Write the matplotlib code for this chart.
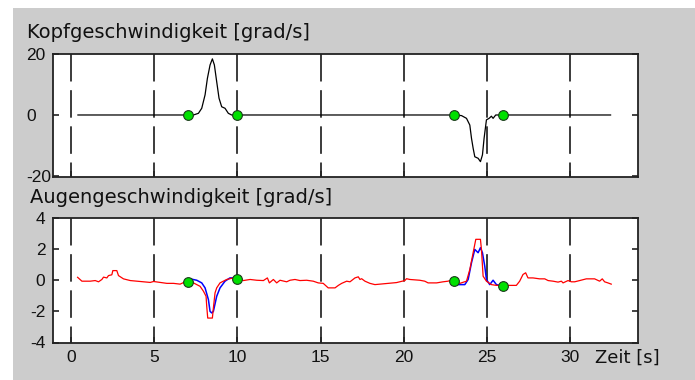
import matplotlib
matplotlib.use("Agg")
import matplotlib.pyplot as plt
from matplotlib.patches import Rectangle

# ---- data ----
head_t = [0.4, 7.0, 7.35, 7.65, 7.85, 8.05, 8.19, 8.35, 8.49, 8.61, 8.75, 8.89, 9.05,
          9.25, 9.45, 9.65, 10.0, 23.08, 23.48, 23.78, 23.98, 24.08, 24.18, 24.28,
          24.48, 24.62, 24.74, 24.84, 24.98, 25.14, 25.28, 25.38, 25.54, 26.08, 32.45]
head_v = [0, 0, 0, 0.55, 2.2, 6.6, 12.0, 16.4, 18.4, 16.4, 10.9, 5.5, 2.7,
          2.2, 0.55, 0, 0, 0, -0.2, -1.1, -3.3, -7.6, -10.9, -13.7,
          -14.2, -15.3, -13.1, -7.6, -1.6, -1.1, -0.4, -1.1, 0, 0, 0]

eye_t = [0.38, 0.64, 1.14, 1.44, 1.64, 1.84, 1.94, 2.14, 2.24, 2.44, 2.5, 2.74, 2.84,
         3.14, 3.55, 3.95, 4.35, 4.75, 4.95, 5.35, 5.75, 6.15, 6.55, 6.85, 7.15, 7.35,
         7.75, 7.95, 8.11, 8.15, 8.21, 8.49, 8.55, 8.65, 8.75, 8.95, 9.35, 9.75, 10.05,
         10.35, 10.76, 11.16, 11.56, 11.8, 11.92, 12.16, 12.36, 12.56, 12.96, 13.16,
         13.46, 13.76, 14.16, 14.56, 14.86, 15.16, 15.46, 15.87, 16.07, 16.27, 16.57,
         16.77, 17.07, 17.27, 17.37, 17.47, 17.67, 17.97, 18.27, 18.57, 19.07, 19.57,
         20.07, 20.17, 20.37, 20.97, 21.27, 21.47, 21.98, 22.37, 22.67, 22.78, 23.08,
         23.38, 23.78, 23.98, 24.18, 24.34, 24.62, 24.68, 24.78, 24.98, 25.28, 25.58,
         26.18, 26.78, 26.98, 27.18, 27.34, 27.48, 27.78, 28.18, 28.49, 28.69, 28.99,
         29.29, 29.49, 29.59, 29.89, 30.09, 30.29, 30.59, 30.99, 31.49, 31.79, 31.95,
         32.09, 32.29, 32.49]
eye_v = [0.19, -0.06, -0.06, -0.02, -0.1, 0.05, 0.2, 0.15, 0.3, 0.35, 0.62, 0.62, 0.3,
         0.09, -0.02, -0.06, -0.1, -0.14, -0.08, -0.14, -0.2, -0.2, -0.25, -0.1, -0.2, -0.17,
         -0.39, -0.7, -1.03, -1.68, -2.43, -2.43, -1.78, -0.81, -0.49, -0.17, 0.05, 0.15, 0.15,
         -0.02, 0.05, 0.0, -0.02, 0.15, -0.17, 0.05, -0.17, 0.0, -0.1, 0.0,
         0.05, -0.02, 0.0, -0.06, -0.17, -0.2, -0.49, -0.49, -0.33, -0.2, -0.06,
         -0.1, 0.15, 0.22, 0.05, 0.1, -0.06, -0.2, -0.28, -0.25, -0.2, -0.15,
         -0.02, 0.1, 0.05, 0.0, -0.06, -0.17, -0.17, -0.1, -0.06, -0.02, -0.06,
         -0.2, -0.06, 0.69, 1.77, 2.63, 2.63, 1.98, 0.26, -0.06, -0.28, -0.33,
         -0.33, -0.33, -0.06, 0.37, 0.48, 0.15, 0.15, 0.09, 0.09, -0.02, -0.06,
         -0.12, -0.06, -0.17, -0.02, -0.1, -0.1, -0.02, 0.09, 0.09, -0.06, 0.09,
         -0.1, -0.17, -0.25]

model1_t = [7.0, 7.15, 7.55, 7.85, 8.05, 8.25, 8.35, 8.45, 8.55, 8.75, 8.95, 9.25, 9.55, 9.95, 10.0]
model1_v = [-0.1, 0.09, 0.0, -0.17, -0.49, -1.24, -2.0, -2.1, -2.0, -1.03, -0.49, -0.06, 0.15, 0.15, 0.1]
model2_t = [23.08, 23.68, 23.88, 24.08, 24.28, 24.48, 24.62, 24.74, 24.88, 24.98, 25.18, 25.38, 25.58, 25.98, 26.0]
model2_v = [-0.28, -0.28, 0.05, 1.12, 1.98, 1.77, 2.09, 1.77, 0.9, 0.05, -0.28, 0.0, -0.28, -0.39, -0.35]

head_mark_t = [7, 10, 23, 26]
head_mark_v = [0, 0, 0, 0]
eye_mark_t = [7, 10, 23, 26]
eye_mark_v = [-0.1, 0.1, -0.06, -0.35]

xticks = [0, 5, 10, 15, 20, 25, 30]
xticklabels = ["0", "5", "10", "15", "20", "25", "30"]
head_yticks = [-20, 0, 20]
eye_yticks = [-4, -2, 0, 2, 4]

# ---- figure ----
W, H = 695, 380
plt.rcParams["font.family"] = ["DejaVu Sans"]
plt.rcParams["axes.unicode_minus"] = False
fig = plt.figure(figsize=(W / 100, H / 100), dpi=100, facecolor="white")
fig.patches.append(Rectangle((13 / W, 0), 1 - 13 / W, 1 - 8 / H, transform=fig.transFigure,
                             facecolor="#cccccc", edgecolor="none", zorder=-10))

def fx(px):
    return px / W

def fy(py):
    return 1 - py / H

ax1 = fig.add_axes([fx(53), fy(177.5), fx(585), 123.5 / H])
ax2 = fig.add_axes([fx(53), fy(342.5), fx(585), 124.5 / H])

XLIM = (-1.1, 34.1)
spine_col = "#222222"
tick_font = "Liberation Sans"

for ax in (ax1, ax2):
    ax.set_facecolor("white")
    ax.set_xlim(*XLIM)
    for s in ax.spines.values():
        s.set_color(spine_col)
        s.set_linewidth(1.3)
    for x in xticks:
        ax.plot([x, x], [1, 0], transform=ax.get_xaxis_transform(), color="#1a1a1a",
                lw=1.2, dashes=(16.5, 5.2), zorder=1)
    ax.tick_params(axis="both", direction="in", length=4, width=1.2, color=spine_col,
                   right=True, top=False, labelsize=12.5, labelcolor="#111111")
    ax.set_xticks(xticks)

# head velocity
ax1.plot(head_t, head_v, color="black", lw=0.9, zorder=3)
ax1.plot(head_mark_t, head_mark_v, "o", ms=7, mfc="#00e000", mec="#1a3a1a", mew=0.8, zorder=4)
ax1.set_ylim(-20.5, 20)
ax1.set_yticks(head_yticks)
ax1.set_yticklabels(["-20", "0", "20"], family=tick_font)
ax1.tick_params(axis="x", labelbottom=False)
ax1.tick_params(axis="y", pad=19.5)
for lab in ax1.get_yticklabels():
    lab.set_horizontalalignment("left")

# eye velocity
ax2.plot(eye_t, eye_v, color="#ff0000", lw=0.9, zorder=3)
ax2.plot(model1_t, model1_v, color="#0000ff", lw=1.1, zorder=2.5)
ax2.plot(model2_t, model2_v, color="#0000ff", lw=1.1, zorder=2.5)
ax2.plot(eye_mark_t, eye_mark_v, "o", ms=7, mfc="#00e000", mec="#1a3a1a", mew=0.8, zorder=4)
ax2.set_ylim(-4, 4)
ax2.set_yticks(eye_yticks)
ax2.set_yticklabels(["-4", "-2", "0", "2", "4"], family=tick_font)
ax2.set_xticklabels(xticklabels, family=tick_font)
ax2.tick_params(axis="y", pad=5.5)
ax2.tick_params(axis="x", pad=5.5)

fig.text(fx(27), fy(33), "Kopfgeschwindigkeit [grad/s]", fontsize=14, ha="left", va="center",
         color="#111111")
fig.text(fx(30), fy(198), "Augengeschwindigkeit [grad/s]", fontsize=14, ha="left", va="center",
         color="#111111")
fig.text(fx(595), fy(358), "Zeit [s]", fontsize=13, ha="left", va="center", color="#111111")

fig.savefig("out.png", dpi=100, facecolor=fig.get_facecolor())
